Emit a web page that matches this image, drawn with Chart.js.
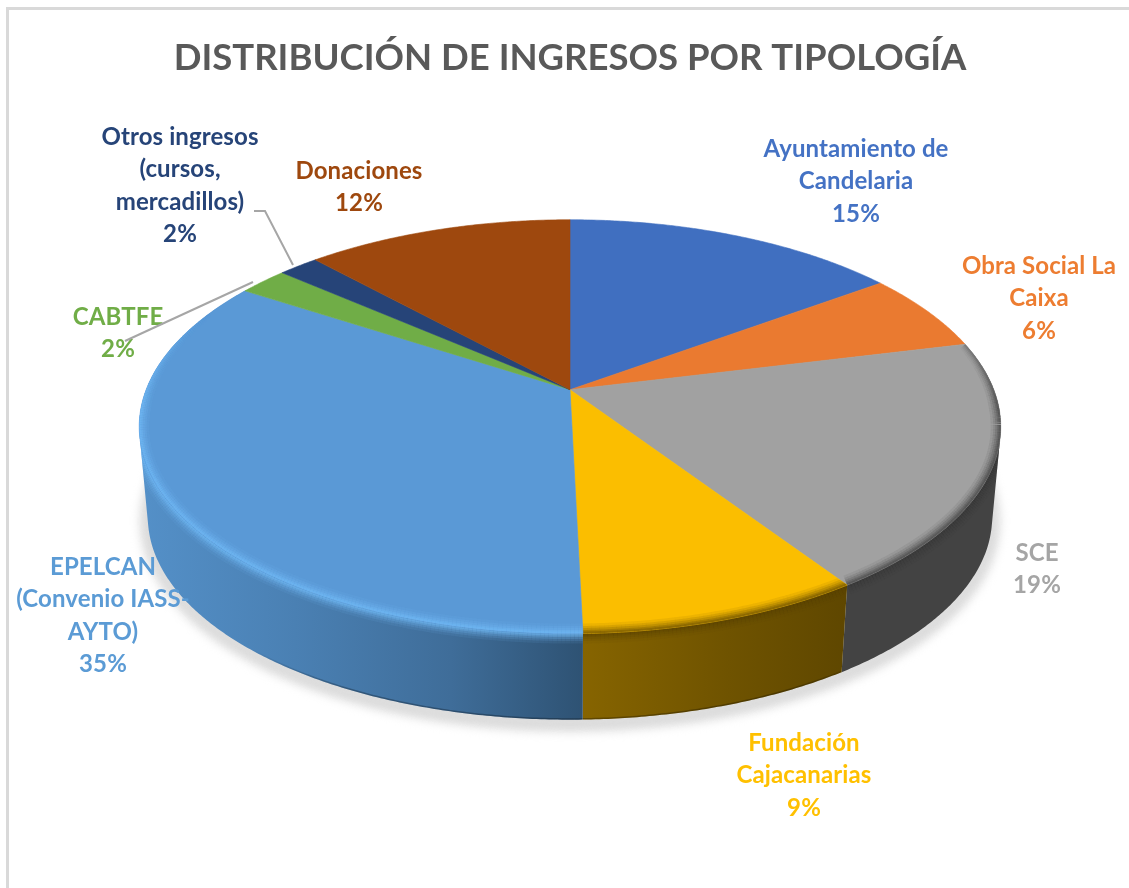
<!DOCTYPE html>
<html lang="es"><head><meta charset="utf-8"><title>Distribución de ingresos por tipología</title>
<script src="https://cdn.jsdelivr.net/npm/chart.js@4"></script>
<style>
html,body{margin:0;padding:0;background:#fff;overflow:hidden}
#frame{position:absolute;left:6px;top:7px;width:1200px;height:1000px;border:3px solid #d9d9d9;box-sizing:border-box}
#wrap{position:absolute;left:0;top:0;width:1129px;height:888px}
</style></head><body>
<div id="frame"></div>
<div id="wrap"><canvas id="c" width="1129" height="888"></canvas></div>
<script>
const chartTitle = "DISTRIBUCIÓN DE INGRESOS POR TIPOLOGÍA";
const categories = ["Ayuntamiento de Candelaria","Obra Social La Caixa","SCE","Fundación Cajacanarias","EPELCAN (Convenio IASS-AYTO)","CABTFE","Otros ingresos (cursos, mercadillos)","Donaciones"];
const values = [15, 6.2, 19.4, 9.0, 34.5, 2.2, 1.8, 11.9];
const percentLabels = ["15%","6%","19%","9%","35%","2%","2%","12%"];
const labelLines = [["Ayuntamiento de","Candelaria"],["Obra Social La","Caixa"],["SCE"],["Fundación","Cajacanarias"],["EPELCAN","(Convenio IASS-","AYTO)"],["CABTFE"],["Otros ingresos","(cursos,","mercadillos)"],["Donaciones"]];
const colors = ["#406fc0","#ea7a30","#a1a1a1","#fbbe00","#5a99d6","#70ad47","#264478","#9e480e"];
const labelColors = ["#4472c4","#ed7d31","#a5a5a5","#ffc000","#5b9bd5","#70ad47","#264478","#9e480e"];

// placement of the label blocks (centre x, centre y of first line)
const labelAnchors = [[856,149],[1039,266],[1037,553],[804,743],[103,567],[118,317],[180,137],[359,171]];
const lineStep = 32.5;
const leaders = [[[254,211],[265,211],[293,265]],[[253,282],[125,341]]];

// perspective of the 3-D disc
const persp = 0.1787, aspect = 2.116, depth = 91, baseScale = 0.98;
const wallStops = [
  null,null,
  [[0,"#434343"],[1,"#434343"]],
  [[0,"#866400"],[0.55,"#6f5300"],[1,"#5f4700"]],
  [[0,"#5490c8"],[0.35,"#4a80b3"],[0.7,"#3f6d99"],[1,"#2e5273"]],
  null,null,null];
const wallSpan = [null,null,[840,1005],[584,846],[140,584],null,null,null];
const bevel = [null,null,["#3a3a3a",.85],["#5a4300",.85],["#74bcf8",1],null,null,null];

function project(arc, a, base){
  const x = Math.cos(a), y = -Math.sin(a), w = 1 + persp*y, S = arc.outerRadius;
  const f = base ? baseScale : 1;
  return [arc.x + f*aspect*S*x/w, arc.y + (base?depth:0) - f*S*y/w];
}
function samples(arc){
  const n = Math.max(4, Math.ceil((arc.endAngle-arc.startAngle)*120)), out=[];
  for(let i=0;i<=n;i++) out.push(arc.startAngle+(arc.endAngle-arc.startAngle)*i/n);
  return out;
}
function sectorPath(ctx, arc){
  ctx.beginPath(); ctx.moveTo(arc.x, arc.y);
  for(const a of samples(arc)){ const p=project(arc,a,false); ctx.lineTo(p[0],p[1]); }
  ctx.closePath();
}
function wallPath(ctx, arc){
  const s=samples(arc); ctx.beginPath();
  for(let i=0;i<s.length-1;i++){
    let q=[project(arc,s[i],false),project(arc,s[i+1],false),project(arc,s[i+1],true),project(arc,s[i],true)];
    let area=0; q.forEach((p,j)=>{const r=q[(j+1)%4]; area+=p[0]*r[1]-r[0]*p[1];});
    if(area<0) q=q.reverse();
    q.forEach((p,j)=>j?ctx.lineTo(p[0],p[1]):ctx.moveTo(p[0],p[1]));
    ctx.closePath();
  }
}
function bevelStrokes(ctx, arc, color, strength){
  ctx.strokeStyle=color; ctx.lineCap="butt";
  const s=samples(arc);
  for(let i=0;i<s.length-1;i++){
    const mid=(s[i]+s[i+1])/2, yb=-Math.sin(mid);
    const t=Math.max(0,Math.min(1,(0.42-yb)/0.5));
    if(t<=0) continue;
    const p=project(arc,s[i],false), q=project(arc,s[i+1],false);
    for(const [lw,al] of [[20,.10],[15,.16],[11,.22],[7,.30],[4,.35]]){
      ctx.lineWidth=lw*(0.45+0.55*t); ctx.globalAlpha=al*t*strength;
      ctx.beginPath(); ctx.moveTo(p[0],p[1]); ctx.lineTo(q[0],q[1]); ctx.stroke();
    }
  }
  ctx.globalAlpha=1;
}

const disc3d = {
  id:"disc3d",
  beforeDatasetsDraw(chart){
    const ctx=chart.ctx, arcs=chart.getDatasetMeta(0).data;
    const ref={x:arcs[0].x,y:arcs[0].y,outerRadius:arcs[0].outerRadius,startAngle:-Math.PI/2,endAngle:1.5*Math.PI};
    // ground shadow
    ctx.save();
    ctx.filter="blur(5px)"; ctx.translate(0,4);
    ctx.fillStyle="#dcdcdc"; ctx.strokeStyle="#dcdcdc"; ctx.lineWidth=16; ctx.lineJoin="round"; ctx.beginPath();
    samples(ref).forEach((a,i)=>{const p=project(ref,a,true); i?ctx.lineTo(p[0],p[1]):ctx.moveTo(p[0],p[1]);});
    ctx.closePath(); ctx.stroke(); ctx.fill(); ctx.restore();
    // walls
    arcs.forEach((arc,i)=>{
      if(!wallStops[i]) return;
      const g=ctx.createLinearGradient(wallSpan[i][0],0,wallSpan[i][1],0);
      wallStops[i].forEach(s=>g.addColorStop(s[0],s[1]));
      ctx.save(); wallPath(ctx,arc); ctx.fillStyle=g; ctx.fill();
      ctx.clip(); ctx.strokeStyle="rgba(0,0,0,.28)"; ctx.lineWidth=3;
      const s=samples(arc);
      for(let j=0;j<s.length-1;j++){
        const x=Math.cos(s[j]), y=-Math.sin(s[j]);
        if(y>-0.75 || i===2) continue;
        const p=project(arc,s[j],true), q=project(arc,s[j+1],true);
        ctx.globalAlpha=Math.min(1,(-0.75-y)/0.15);
        ctx.beginPath(); ctx.moveTo(p[0],p[1]); ctx.lineTo(q[0],q[1]); ctx.stroke();
      }
      ctx.restore();
    });
    // bevel spill on the walls
    arcs.forEach((arc,i)=>{ if(!bevel[i]) return;
      ctx.save(); wallPath(ctx,arc); ctx.clip(); bevelStrokes(ctx,arc,bevel[i][0],bevel[i][1]); ctx.restore(); });
    // top faces
    arcs.forEach((arc,i)=>{
      const col=arc.options.backgroundColor;
      sectorPath(ctx,arc); ctx.fillStyle=col; ctx.fill();
      ctx.strokeStyle=col; ctx.lineWidth=.6; ctx.stroke();
      if(bevel[i]){ ctx.save(); sectorPath(ctx,arc); ctx.clip(); bevelStrokes(ctx,arc,bevel[i][0],bevel[i][1]); ctx.restore(); }
    });
    return false;
  }
};
const sliceLabels = {
  id:"sliceLabels",
  afterDraw(chart){
    const ctx=chart.ctx;
    ctx.save();
    ctx.font="700 24px Lato"; ctx.letterSpacing="0.1px"; ctx.textAlign="center"; ctx.textBaseline="middle";
    categories.forEach((c,i)=>{
      const lines=labelLines[i].concat(percentLabels[i]);
      ctx.fillStyle=labelColors[i];
      lines.forEach((t,j)=>ctx.fillText(t,labelAnchors[i][0],labelAnchors[i][1]+j*lineStep));
    });
    ctx.strokeStyle="#a6a6a6"; ctx.lineWidth=2;
    leaders.forEach(l=>{ctx.beginPath(); l.forEach((p,i)=>i?ctx.lineTo(p[0],p[1]):ctx.moveTo(p[0],p[1])); ctx.stroke();});
    ctx.restore();
  }
};
new Chart(document.getElementById("c"),{
  type:"pie",
  data:{labels:categories,datasets:[{data:values,backgroundColor:colors,borderWidth:0}]},
  plugins:[disc3d,sliceLabels],
  options:{
    responsive:false,animation:false,events:[],
    layout:{padding:{left:120,right:109,top:0,bottom:298}},
    plugins:{
      legend:{display:false},tooltip:{enabled:false},
      title:{display:true,text:chartTitle,color:"#595959",fullSize:false,
        font:{family:"Lato",size:36.5,weight:"700"},padding:{top:36,bottom:109.6}}
    }
  }
});
</script></body></html>
